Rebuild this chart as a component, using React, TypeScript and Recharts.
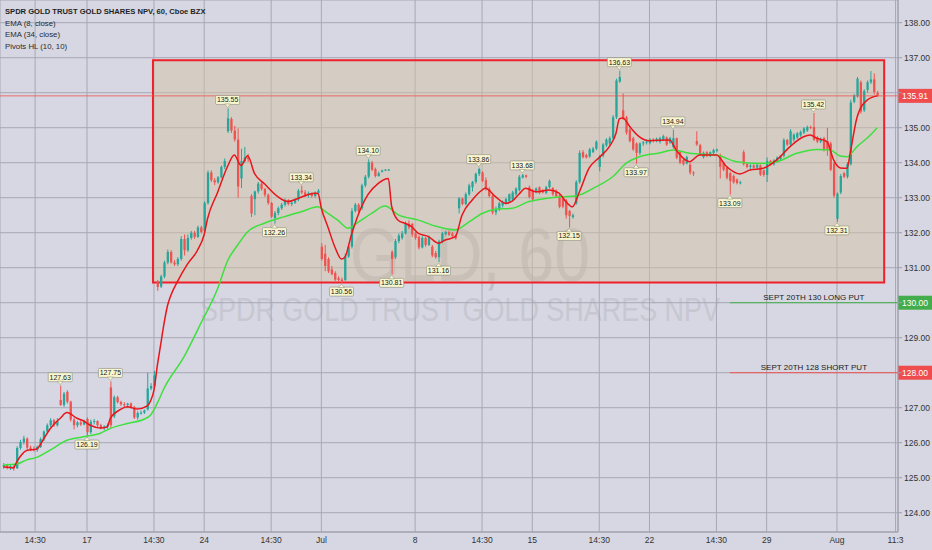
import React from "react";
import {
  ComposedChart,
  Bar,
  Line,
  Scatter,
  XAxis,
  YAxis,
  CartesianGrid,
  ReferenceArea,
  ReferenceLine,
} from "recharts";

// ---------- candle data (hourly) ----------
const OPEN = [
  125.32, 125.36, 125.3, 125.33, 125.27, 125.85, 126.02, 126.12, 125.86, 125.82,
  125.8, 125.88, 126.1, 126.32, 126.5, 126.64, 126.5, 127.22, 127.08, 127.45,
  127.17, 126.66, 126.5, 126.58, 126.52, 126.68, 126.3, 126.6, 126.62, 126.5,
  126.42, 126.46, 127.58, 126.75, 127.3, 127.16, 127.1, 127.08, 127.12, 127.02,
  126.72, 126.85, 126.86, 126.95, 127.55, 127.62, 130.58, 130.46, 130.75, 131.15,
  131.45, 131.15, 131.1, 131.25, 131.82, 131.5, 131.85, 132.0, 131.88, 132.15,
  132.05, 132.85, 133.72, 133.5, 133.44, 133.58, 133.88, 134.9, 135.25, 134.92,
  134.66, 133.55, 134.05, 134.15, 133.05, 132.96, 133.18, 133.4, 133.25, 133.08,
  132.85, 132.42, 132.56, 132.7, 132.8, 132.93, 132.82, 132.86, 132.95, 133.2,
  133.15, 133.08, 133.12, 133.05, 133.14, 131.6, 131.4, 131.25, 130.95, 130.85,
  130.7, 130.66, 130.65, 131.32, 131.6, 132.62, 132.8, 132.7, 133.35, 133.6,
  134.0, 133.82, 133.62, 133.74, 133.78, 133.79, 131.45, 131.3, 131.76, 131.85,
  131.98, 132.26, 132.25, 131.98, 131.88, 131.58, 131.85, 131.65, 131.6, 131.42,
  131.3, 131.75, 131.96, 132.02, 131.98, 131.92, 132.7, 132.98, 132.82, 133.1,
  133.3, 133.45, 133.68, 133.72, 133.5, 133.25, 133.05, 132.58, 132.68, 132.78,
  132.84, 132.9, 132.95, 133.1, 133.22, 133.58, 133.64, 133.3, 133.2, 133.17,
  133.3, 133.22, 133.14, 133.3, 133.28, 133.2, 133.06, 132.98, 132.92, 132.62,
  132.45, 132.84, 133.45, 134.3, 134.22, 134.18, 134.3, 134.4, 133.88, 134.2,
  134.5, 134.55, 134.7, 135.3, 136.32, 135.5, 135.3, 134.95, 134.7, 134.55,
  134.28, 134.55, 134.58, 134.56, 134.66, 134.62, 134.6, 134.66, 134.72, 134.58,
  134.45, 134.7, 134.3, 134.08, 133.98, 133.94, 133.72, 134.62, 134.5, 134.16,
  134.3, 134.2, 134.28, 134.34, 134.22, 134.0, 133.86, 133.7, 133.62, 133.52,
  133.42, 134.3, 133.96, 133.88, 133.92, 133.86, 133.92, 133.78, 133.65, 134.05,
  133.95, 134.04, 134.1, 134.2, 134.65, 134.52, 134.66, 134.72, 134.78, 134.86,
  134.92, 135.02, 135.02, 134.72, 134.6, 134.7, 134.62, 134.55, 133.98, 132.4,
  133.15, 133.7, 133.6, 133.96, 135.74, 135.9, 136.3, 135.5, 136.08, 136.3,
  136.38, 136.0,
];
const HIGH = [
  125.42, 125.4, 125.38, 125.36, 125.9, 126.08, 126.2, 126.15, 125.92, 125.9,
  125.92, 126.15, 126.35, 126.55, 126.7, 126.68, 126.7, 127.63, 127.45, 127.5,
  127.2, 126.72, 126.62, 126.64, 126.66, 126.72, 126.66, 126.68, 126.64, 126.54,
  126.5, 126.55, 127.75, 127.35, 127.34, 127.2, 127.16, 127.14, 127.15, 127.05,
  126.9, 126.92, 126.95, 128.0, 127.7, 128.05, 130.65, 130.8, 131.2, 131.52,
  131.5, 131.22, 131.3, 131.9, 131.95, 131.95, 132.05, 132.05, 132.2, 132.2,
  132.9, 133.78, 133.78, 133.56, 133.62, 133.92, 134.12, 135.55, 135.3, 135.05,
  134.98, 134.4, 134.45, 134.25, 133.1, 133.2, 133.45, 133.44, 133.28, 133.12,
  132.88, 132.62, 132.75, 132.85, 132.98, 132.96, 132.9, 132.98, 133.25, 133.34,
  133.22, 133.18, 133.15, 133.18, 133.25, 131.7, 131.65, 131.3, 131.05, 130.9,
  130.76, 130.72, 131.4, 131.65, 132.7, 132.85, 132.84, 133.4, 133.65, 134.1,
  134.05, 133.86, 133.75, 133.8, 133.82, 133.82, 131.5, 131.82, 131.98, 132.05,
  132.32, 132.35, 132.28, 132.02, 131.92, 131.9, 131.88, 131.92, 131.65, 131.48,
  131.8, 132.02, 132.05, 132.06, 132.02, 131.95, 133.02, 133.0, 133.15, 133.4,
  133.48, 133.72, 133.86, 133.76, 133.58, 133.3, 133.08, 132.75, 132.88, 132.92,
  133.0, 133.12, 133.2, 133.3, 133.65, 133.68, 133.66, 133.35, 133.25, 133.3,
  133.32, 133.25, 133.34, 133.52, 133.3, 133.24, 133.1, 133.0, 132.96, 132.65,
  132.55, 133.5, 134.35, 134.36, 134.26, 134.42, 134.45, 134.64, 134.22, 134.56,
  134.7, 134.75, 135.36, 136.4, 136.63, 135.98, 135.34, 135.0, 134.74, 134.58,
  134.58, 134.62, 134.66, 134.7, 134.7, 134.72, 134.74, 134.8, 134.75, 134.74,
  134.94, 134.72, 134.34, 134.12, 134.2, 134.0, 133.76, 134.9, 134.54, 134.32,
  134.33, 134.32, 134.4, 134.4, 134.26, 134.04, 133.9, 133.74, 133.66, 133.55,
  133.48, 134.36, 134.0, 133.96, 133.96, 133.96, 133.95, 133.8, 134.15, 134.08,
  134.1, 134.18, 134.22, 134.7, 134.68, 134.96, 134.84, 134.88, 134.92, 135.02,
  135.06, 135.06, 135.42, 134.76, 134.72, 134.74, 135.0, 134.6, 134.02, 133.15,
  133.68, 133.74, 134.02, 135.8, 135.96, 136.45, 136.35, 136.1, 136.35, 136.62,
  136.55, 136.05,
];
const LOW = [
  125.25, 125.24, 125.22, 125.2, 125.25, 125.8, 125.95, 125.8, 125.76, 125.75,
  125.74, 125.85, 126.05, 126.28, 126.45, 126.45, 126.46, 127.05, 127.02, 127.12,
  126.6, 126.38, 126.44, 126.48, 126.5, 126.19, 126.25, 126.52, 126.45, 126.38,
  126.36, 126.4, 126.42, 126.7, 127.12, 127.05, 127.02, 127.0, 126.98, 126.68,
  126.66, 126.8, 126.82, 126.92, 127.5, 127.55, 130.34, 130.42, 130.7, 131.1,
  131.12, 131.05, 131.05, 131.2, 131.35, 131.45, 131.8, 131.82, 131.85, 131.98,
  132.0, 132.8, 133.45, 133.36, 133.4, 133.55, 133.82, 134.85, 134.85, 134.6,
  133.0, 133.28, 134.0, 134.02, 132.45, 132.5, 133.12, 133.2, 133.02, 132.8,
  132.42, 132.26, 132.5, 132.65, 132.75, 132.78, 132.76, 132.82, 132.9, 133.1,
  133.02, 133.0, 133.0, 133.0, 133.08, 131.2, 130.9, 130.85, 130.78, 130.62,
  130.6, 130.56, 130.62, 131.28, 131.55, 132.58, 132.55, 132.65, 133.3, 133.55,
  133.76, 133.58, 133.6, 133.72, 133.76, 133.76, 130.81, 131.25, 131.7, 131.8,
  131.95, 132.1, 131.88, 131.8, 131.52, 131.55, 131.6, 131.62, 131.3, 131.26,
  131.16, 131.7, 131.92, 131.9, 131.85, 131.8, 132.55, 132.78, 132.78, 133.05,
  133.18, 133.4, 133.62, 133.44, 133.2, 133.0, 132.52, 132.5, 132.62, 132.72,
  132.8, 132.86, 132.9, 133.05, 133.18, 133.55, 133.56, 132.98, 132.9, 133.12,
  133.1, 133.12, 133.1, 133.26, 133.05, 133.0, 132.7, 132.7, 132.4, 132.15,
  132.4, 132.8, 133.4, 134.12, 134.12, 134.14, 134.28, 134.36, 133.75, 134.15,
  134.45, 134.5, 134.65, 135.25, 136.28, 135.22, 134.8, 134.58, 134.34, 133.97,
  134.22, 134.48, 134.52, 134.52, 134.58, 134.58, 134.55, 134.62, 134.48, 134.54,
  134.4, 134.1, 133.96, 133.92, 133.95, 133.66, 133.62, 134.48, 134.2, 134.12,
  134.16, 134.16, 134.22, 134.3, 133.55, 133.76, 133.52, 133.09, 133.4, 133.38,
  133.38, 133.92, 133.84, 133.82, 133.84, 133.82, 133.62, 133.6, 133.45, 133.92,
  133.92, 134.0, 134.05, 134.15, 134.48, 134.48, 134.6, 134.68, 134.74, 134.82,
  134.88, 134.96, 134.62, 134.56, 134.56, 134.32, 134.2, 133.76, 133.0, 132.31,
  133.1, 133.56, 133.55, 133.92, 135.7, 135.86, 135.4, 135.45, 136.0, 136.25,
  135.95, 135.88,
];
const CLOSE = [
  125.36, 125.3, 125.33, 125.27, 125.85, 126.02, 126.12, 125.86, 125.82, 125.8,
  125.88, 126.1, 126.32, 126.5, 126.64, 126.5, 126.62, 127.08, 127.4, 127.17,
  126.66, 126.5, 126.58, 126.52, 126.6, 126.3, 126.6, 126.62, 126.5, 126.42,
  126.46, 126.5, 126.5, 127.3, 127.16, 127.1, 127.08, 127.12, 127.02, 126.72,
  126.85, 126.86, 126.92, 127.55, 127.62, 127.92, 130.45, 130.75, 131.15, 131.45,
  131.15, 131.1, 131.25, 131.82, 131.5, 131.85, 132.0, 131.88, 132.15, 132.02,
  132.85, 133.72, 133.5, 133.44, 133.58, 133.88, 134.05, 135.27, 134.92, 134.66,
  133.32, 134.05, 134.15, 134.1, 132.55, 133.18, 133.4, 133.25, 133.08, 132.85,
  132.46, 132.56, 132.7, 132.8, 132.93, 132.82, 132.86, 132.95, 133.2, 133.15,
  133.08, 133.12, 133.05, 133.14, 133.2, 131.25, 131.05, 130.9, 130.82, 130.66,
  130.65, 130.62, 131.32, 131.6, 132.62, 132.8, 132.62, 133.35, 133.6, 134.02,
  133.8, 133.62, 133.7, 133.78, 133.8, 133.81, 131.25, 131.76, 131.92, 131.98,
  132.26, 132.15, 131.95, 131.85, 131.58, 131.85, 131.65, 131.88, 131.35, 131.3,
  131.75, 131.98, 132.02, 131.94, 131.9, 131.84, 132.98, 132.82, 133.1, 133.35,
  133.45, 133.68, 133.82, 133.48, 133.25, 133.05, 132.58, 132.68, 132.84, 132.88,
  132.96, 133.1, 133.15, 133.26, 133.6, 133.64, 133.6, 133.02, 132.95, 133.26,
  133.14, 133.15, 133.3, 133.48, 133.1, 133.04, 132.74, 132.75, 132.5, 132.48,
  132.5, 133.45, 134.28, 134.16, 134.15, 134.38, 134.4, 134.6, 134.18, 134.52,
  134.66, 134.7, 135.3, 136.35, 136.45, 135.28, 134.86, 134.62, 134.38, 134.28,
  134.55, 134.58, 134.6, 134.66, 134.62, 134.68, 134.7, 134.76, 134.52, 134.7,
  134.7, 134.14, 134.0, 133.96, 134.16, 133.72, 133.7, 134.52, 134.26, 134.28,
  134.2, 134.3, 134.36, 134.38, 133.88, 133.8, 133.57, 133.48, 133.44, 133.42,
  133.44, 133.96, 133.88, 133.92, 133.86, 133.94, 133.66, 133.65, 134.05, 133.95,
  134.06, 134.15, 134.2, 134.65, 134.52, 134.9, 134.8, 134.84, 134.88, 134.98,
  135.02, 135.0, 134.66, 134.6, 134.68, 134.36, 134.38, 133.8, 133.06, 133.12,
  133.62, 133.6, 133.96, 135.72, 135.92, 136.4, 135.46, 136.05, 136.3, 136.38,
  136.02, 135.91,
];

// ---------- EMA lines at these bars ----------
const EMA8_IDX = [
  0, 3, 4, 5, 7, 10, 12, 14, 17, 19, 22, 24, 26, 29, 31, 32, 35, 37, 40, 43, 44, 45, 46, 47, 48, 49, 50, 52, 55, 58,
  60, 61, 64, 67, 69, 71, 73, 75, 78, 82, 85, 88, 93, 94, 95, 97, 99, 101, 102, 104, 107, 109, 112, 115, 116, 118,
  120, 122, 124, 127, 130, 132, 135, 137, 140, 143, 144, 147, 150, 152, 154, 156, 159, 163, 166, 168, 170, 172, 175,
  178, 181, 183, 184, 185, 187, 188, 190, 193, 199, 201, 205, 208, 213, 216, 220, 223, 227, 231, 235, 239, 241, 243,
  246, 248, 250, 252, 253, 255, 258, 261,
];
const EMA8_VAL = [
  125.31, 125.28, 125.45, 125.6, 125.78, 125.82, 126.1, 126.4, 126.7, 126.86, 126.7, 126.62, 126.5, 126.42, 126.45,
  126.7, 126.95, 127.03, 126.96, 127.05, 127.2, 127.5, 128.2, 128.8, 129.4, 129.9, 130.2, 130.6, 131.1, 131.5,
  131.95, 132.4, 133.15, 133.9, 134.22, 133.92, 134.2, 133.7, 133.4, 133.03, 132.89, 132.98, 133.13, 133.12, 132.7,
  132.15, 131.6, 131.25, 131.3, 131.95, 132.74, 133.1, 133.41, 133.55, 132.75, 132.35, 132.27, 132.17, 131.98,
  131.89, 131.7, 131.79, 131.89, 132.5, 132.93, 133.22, 133.27, 133.03, 132.84, 132.9, 133.1, 133.27, 133.17,
  133.22, 133.13, 132.89, 132.74, 133.15, 133.85, 134.15, 134.46, 134.84, 135.25, 135.28, 135.05, 134.93, 134.74,
  134.63, 134.65, 134.36, 134.03, 134.22, 134.22, 133.89, 133.68, 133.79, 133.84, 134.08, 134.46, 134.74, 134.79,
  134.7, 134.6, 134.08, 133.85, 133.84, 134.3, 135.3, 135.79, 135.91,
];
const EMA34_IDX = [
  0, 4, 7, 10, 14, 19, 24, 29, 32, 37, 42, 44, 46, 48, 54, 59, 64, 67, 70, 73, 78, 84, 89, 94, 96, 100, 103, 106,
  110, 114, 118, 124, 129, 135, 139, 143, 147, 152, 157, 162, 167, 171, 177, 182, 186, 190, 196, 200, 205, 213, 219,
  226, 231, 237, 243, 247, 250, 252, 255, 259, 261,
];
const EMA34_VAL = [
  125.36, 125.39, 125.51, 125.58, 125.79, 126.07, 126.17, 126.27, 126.41, 126.55, 126.67, 126.79, 127.13, 127.55,
  128.46, 129.41, 130.4, 131.2, 131.65, 132.03, 132.27, 132.46, 132.6, 132.74, 132.62, 132.35, 132.13, 132.3,
  132.55, 132.76, 132.51, 132.36, 132.19, 132.08, 132.3, 132.55, 132.67, 132.7, 132.89, 132.98, 133.03, 133.05,
  133.31, 133.6, 133.98, 134.17, 134.28, 134.36, 134.27, 134.22, 134.03, 133.98, 134.03, 134.27, 134.38, 134.36,
  134.19, 134.17, 134.46, 134.79, 135.0,
];

// ---------- Pivots HL (10, 10) ----------
const PIVOT_IDX = [17, 25, 32, 67, 81, 89, 101, 109, 116, 130, 142, 155, 169, 184, 189, 200, 217, 242, 249];
const PIVOT_PRICE = [
  127.63, 126.19, 127.75, 135.55, 132.26, 133.34, 130.56, 134.1, 130.81, 131.16, 133.86, 133.68, 132.15, 136.63,
  133.97, 134.94, 133.09, 135.42, 132.31,
];
const PIVOT_KIND = ["H", "L", "H", "H", "L", "H", "L", "H", "L", "L", "H", "H", "L", "H", "L", "H", "L", "H", "L"];

// ---------- axes ----------
const X_TICK_POS = [9.5, 25, 45, 60, 80, 95, 123, 143, 158, 178, 193, 213, 228, 249, 266.5];
const X_TICK_LABEL = ["14:30", "17", "14:30", "24", "14:30", "Jul", "8", "14:30", "15", "14:30", "22", "14:30", "29", "Aug", "11:3"];
const Y_TICKS = [124, 125, 126, 127, 128, 129, 130, 131, 132, 133, 134, 135, 136, 137, 138];
// tick labels hidden behind the price badges
const Y_TICKS_COVERED = [136, 130, 128];

// ---------- annotations ----------
const RANGE_BOX = { x1: 44.7, x2: 263.1, y1: 130.58, y2: 136.93 };
const LAST_PRICE = 135.91;
const LONG_PUT = 130;
const SHORT_PUT = 128;
const PUT_START = 217;

const UP = "#26a69a";
const DOWN = "#ef5350";
const BG = "#d6d7e2";
const FONT = "'Liberation Sans', Arial, sans-serif";

const X_DOMAIN: [number, number] = [-0.986, 267.23];
const Y_DOMAIN: [number, number] = [123.449, 138.649];

const rows = OPEN.map((o, i) => ({
  i,
  o,
  h: HIGH[i],
  l: LOW[i],
  c: CLOSE[i],
  range: [LOW[i], HIGH[i]],
  ema8: null as number | null,
  ema34: null as number | null,
}));
EMA8_IDX.forEach((idx, k) => {
  rows[idx].ema8 = EMA8_VAL[k];
});
EMA34_IDX.forEach((idx, k) => {
  rows[idx].ema34 = EMA34_VAL[k];
});

const pivots = PIVOT_IDX.map((i, k) => ({ i, y: PIVOT_PRICE[k], kind: PIVOT_KIND[k] }));

const Candle = (props: any) => {
  const { x, y, width, height, payload } = props;
  if (!payload || x == null) return null;
  const { o, h, l, c } = payload;
  const top0 = height < 0 ? y + height : y;
  const hh = Math.abs(height);
  const k = h - l > 0 ? hh / (h - l) : 0;
  const yOf = (p: number) => top0 + (h - p) * k;
  const color = c >= o ? UP : DOWN;
  const cx = x + width / 2;
  const bt = yOf(Math.max(o, c));
  const bb = yOf(Math.min(o, c));
  return (
    <g>
      <line x1={cx} x2={cx} y1={top0} y2={top0 + hh} stroke={color} strokeWidth={1} />
      <rect x={x} y={bt} width={width} height={Math.max(1, bb - bt)} fill={color} />
    </g>
  );
};

const PivotLabel = (props: any) => {
  const { cx, cy, payload } = props;
  if (cx == null || cy == null) return null;
  const w = 24;
  const bh = 9;
  const high = payload.kind === "H";
  const by = high ? cy - 4 - bh : cy + 4;
  const tri = high
    ? `${cx - 3},${cy - 4.5} ${cx + 3},${cy - 4.5} ${cx},${cy - 1}`
    : `${cx - 3},${cy + 4.5} ${cx + 3},${cy + 4.5} ${cx},${cy + 1}`;
  return (
    <g>
      <rect x={cx - w / 2} y={by} width={w} height={bh} fill="#f7f6cf" stroke="#8a8a80" strokeWidth={0.6} rx={1} />
      <polygon points={tri} fill="#f7f6cf" stroke="#8a8a80" strokeWidth={0.5} />
      <text x={cx} y={by + bh - 2} textAnchor="middle" fontSize={7} fontFamily={FONT} fill="#1a1a1a">
        {payload.y.toFixed(2)}
      </text>
    </g>
  );
};

const Badge = (color: string, value: number, caption?: string) => (props: any) => {
  const vb = props.viewBox || {};
  const x = vb.x ?? 0;
  const y = vb.y ?? 0;
  const w = vb.width ?? 0;
  const right = x + w;
  return (
    <g>
      {caption ? (
        <text x={x + w / 2} y={y - 3} textAnchor="middle" fontSize={8} fontFamily={FONT} fill="#1a1a1a">
          {caption}
        </text>
      ) : null}
      <rect x={right} y={y - 7} width={34} height={14} fill={color} />
      <text x={right + 4} y={y + 3} fontSize={8.5} fontFamily={FONT} fill="#ffffff">
        {value.toFixed(2)}
      </text>
    </g>
  );
};

export default function App() {
  return (
    <div style={{ position: "relative", width: 932, height: 550, background: BG, overflow: "hidden" }}>
      <style>{"body{margin:0}"}</style>
      <svg width={932} height={550} style={{ position: "absolute", left: 0, top: 0 }}>
        <text
          x={350}
          y={281}
          fontSize={76}
          fontFamily={FONT}
          fill="#bfc0ca"
          textLength={240}
          lengthAdjust="spacingAndGlyphs"
        >
          GLD, 60
        </text>
        <text
          x={200}
          y={321}
          fontSize={33}
          fontFamily={FONT}
          fill="#c6c7d1"
          textLength={520}
          lengthAdjust="spacingAndGlyphs"
        >
          SPDR GOLD TRUST GOLD SHARES NPV
        </text>
      </svg>
      <div style={{ position: "absolute", left: 0, top: 0 }}>
        <ComposedChart width={932} height={550} data={rows} margin={{ top: 0, right: 0, bottom: 0, left: 0 }}>
          <CartesianGrid stroke="#a6a8b4" strokeWidth={1} />
          <XAxis
            dataKey="i"
            type="number"
            domain={X_DOMAIN}
            allowDataOverflow
            ticks={X_TICK_POS}
            interval={0}
            height={18}
            tickLine={false}
            tickSize={3}
            axisLine={{ stroke: "#9c9eaa" }}
            tick={{ fontSize: 8.5, fill: "#333", fontFamily: FONT }}
            tickFormatter={(v: number) => X_TICK_LABEL[X_TICK_POS.indexOf(v)] ?? ""}
          />
          <YAxis
            orientation="right"
            type="number"
            domain={Y_DOMAIN}
            allowDataOverflow
            ticks={Y_TICKS}
            interval={0}
            width={34}
            tickSize={4}
            tickLine={{ stroke: "#9c9eaa" }}
            axisLine={{ stroke: "#9c9eaa" }}
            tick={{ fontSize: 8.5, fill: "#333", fontFamily: FONT }}
            tickFormatter={(v: number) => (Y_TICKS_COVERED.includes(v) ? "" : v.toFixed(2))}
          />
          <ReferenceArea
            x1={RANGE_BOX.x1}
            x2={RANGE_BOX.x2}
            y1={RANGE_BOX.y1}
            y2={RANGE_BOX.y2}
            fill="#d4c2a5"
            fillOpacity={0.5}
            stroke="#f0202a"
            strokeWidth={2}
            strokeOpacity={1}
          />
          <ReferenceLine y={LAST_PRICE} stroke="#ef5350" strokeWidth={1} strokeOpacity={0.8} label={Badge("#ef4d4d", LAST_PRICE)} />
          <ReferenceLine
            segment={[
              { x: PUT_START, y: LONG_PUT },
              { x: X_DOMAIN[1], y: LONG_PUT },
            ]}
            stroke="#43b049"
            strokeWidth={1}
            label={Badge("#43ad4b", LONG_PUT, "SEPT 20TH 130 LONG PUT")}
          />
          <ReferenceLine
            segment={[
              { x: PUT_START, y: SHORT_PUT },
              { x: X_DOMAIN[1], y: SHORT_PUT },
            ]}
            stroke="#ef5350"
            strokeWidth={1}
            label={Badge("#ef4d4d", SHORT_PUT, "SEPT 20TH 128 SHORT PUT")}
          />
          <Bar dataKey="range" barSize={2.3} shape={Candle} isAnimationActive={false} />
          <Line
            dataKey="ema34"
            type="monotone"
            stroke="#3ee03e"
            strokeWidth={1.5}
            dot={false}
            activeDot={false}
            connectNulls
            isAnimationActive={false}
          />
          <Line
            dataKey="ema8"
            type="monotone"
            stroke="#e8151b"
            strokeWidth={1.5}
            dot={false}
            activeDot={false}
            connectNulls
            isAnimationActive={false}
          />
          <Scatter data={pivots} dataKey="y" shape={PivotLabel} isAnimationActive={false} />
        </ComposedChart>
      </div>
      <svg width={932} height={60} style={{ position: "absolute", left: 0, top: 0, pointerEvents: "none" }}>
        <text x={5} y={14} fontSize={7.6} fontWeight="bold" fontFamily={FONT} fill="#1f1f24">
          SPDR GOLD TRUST GOLD SHARES NPV, 60, Cboe BZX
        </text>
        <text x={5} y={25.5} fontSize={7.8} fontFamily={FONT} fill="#2a2a30">
          EMA (8, close)
        </text>
        <text x={5} y={37} fontSize={7.8} fontFamily={FONT} fill="#2a2a30">
          EMA (34, close)
        </text>
        <text x={5} y={48.5} fontSize={7.8} fontFamily={FONT} fill="#2a2a30">
          Pivots HL (10, 10)
        </text>
      </svg>
    </div>
  );
}
